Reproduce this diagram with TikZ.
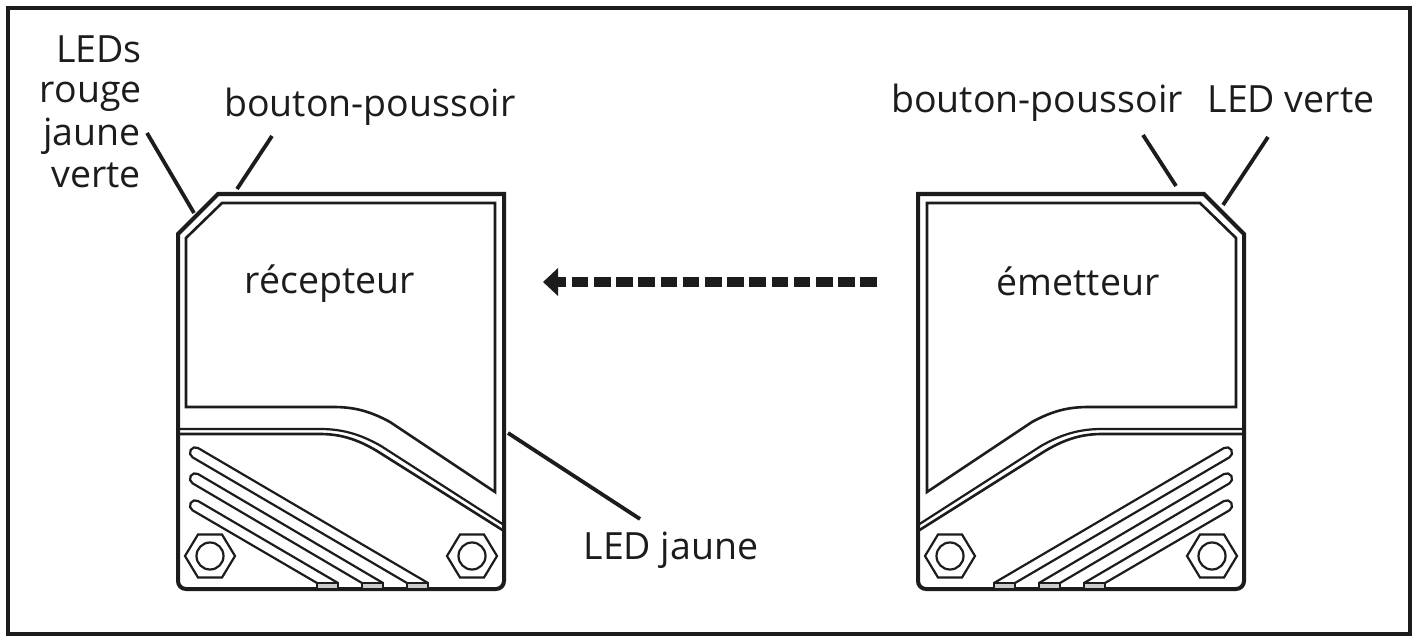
\documentclass[tikz,border=0pt]{standalone}
\usepackage{fontspec}
\usetikzlibrary{arrows.meta}
\setmainfont{Open Sans}
\definecolor{ink}{HTML}{1C1C1C}
\tikzset{
  outerline/.style={draw=ink,line width=4pt,line join=miter},
  innerline/.style={draw=ink,line width=2.6pt,line join=miter},
  thinline/.style={draw=ink,line width=2.2pt},
  leader/.style={draw=ink,line width=3.8pt},
  lbl/.style={font=\fontsize{37.5}{42}\selectfont,text=ink,inner sep=0pt},
  beam/.style={draw=ink,line width=10.7pt,dash pattern=on 16.7pt off 5.5pt,-{Triangle[length=15pt,width=27pt]}}
}
\newcommand{\hexbolt}[2]{%
  \draw[thinline] (#1-25,#2) -- (#1-12,#2-21.5) -- (#1+12,#2-21.5) -- (#1+25,#2) -- (#1+12,#2+21.5) -- (#1-12,#2+21.5) -- cycle;
  \draw[thinline] (#1,#2) circle (13.5);
}
\newcommand{\slot}[3]{% y of upper start; upper end x; lower end x
  \draw[thinline] (#2,583) -- (198,#1) arc[start angle=-60,end angle=-240,radius=5.4] -- (#3,583);
  \draw[thinline,fill=white!80!black] (#3,583) rectangle (#2,589);
}
\newcommand{\sensorbody}{%
  \draw[outerline] (178,234) -- (218,194) -- (504,194) -- (504,581)
     arc[start angle=0,end angle=90,radius=8] -- (186,589)
     arc[start angle=90,end angle=180,radius=8] -- cycle;
  \draw[innerline] (186,238) -- (222,203) -- (495,203) -- (495,492) -- (390,422)
     .. controls (368,410) and (352,407) .. (333,407) -- (186,407) -- cycle;
  \draw[thinline] (178,429) -- (320,429) .. controls (342,429) and (360,434) .. (381,446) -- (504,525);
  \draw[innerline] (178,434) -- (320,434) .. controls (340,434) and (357,439) .. (377,451) -- (504,531);
  \slot{448}{428}{407}
  \slot{474}{383}{362}
  \slot{501}{338}{317}
  \hexbolt{210}{556}
  \hexbolt{472}{556}
}
\begin{document}
\begin{tikzpicture}[x=1pt,y=-1pt]
\useasboundingbox (0,0) rectangle (1415,639);
\fill[white] (0,0) rectangle (1415,639);
\draw[draw=ink,line width=3.4pt] (8,8) rectangle (1410,634);
\begin{scope}\sensorbody\end{scope}
\begin{scope}[xshift=1422pt,xscale=-1]\sensorbody\end{scope}

\node[lbl,anchor=base east] (t1) at (142,63) {LEDs};
\node[lbl,anchor=base east] (t2) at (142,103) {rouge};
\node[lbl,anchor=base east] (t3) at (141,146) {jaune};
\node[lbl,anchor=base east] (t4) at (141,188) {verte};
\node[lbl,anchor=base] (t5) at (370,117) {bouton-poussoir};
\node[lbl,anchor=base] (t6) at (1037,113) {bouton-poussoir};
\node[lbl,anchor=base] (t7) at (1291,113) {LED verte};
\node[lbl,anchor=base] (t8) at (671,559) {LED jaune};
\node[lbl,anchor=base] (t9) at (330,293) {récepteur};
\node[lbl,anchor=base] (t10) at (1078,295) {émetteur};

\coordinate (a1) at (147,133); \coordinate (b1) at (194,213);
\coordinate (a2) at (272,136); \coordinate (b2) at (237,189);
\coordinate (a3) at (640,519); \coordinate (b3) at (508,433);
\coordinate (a4) at (1143,135); \coordinate (b4) at (1176,186);
\coordinate (a5) at (1268,137); \coordinate (b5) at (1223,205);
\coordinate (s) at (877,282); \coordinate (e) at (543,282);
\draw[leader] (a1) -- (b1);
\draw[leader] (a2) -- (b2);
\draw[leader] (a3) -- (b3);
\draw[leader] (a4) -- (b4);
\draw[leader] (a5) -- (b5);
\draw[beam] (s) -- (e);
\end{tikzpicture}
\end{document}
